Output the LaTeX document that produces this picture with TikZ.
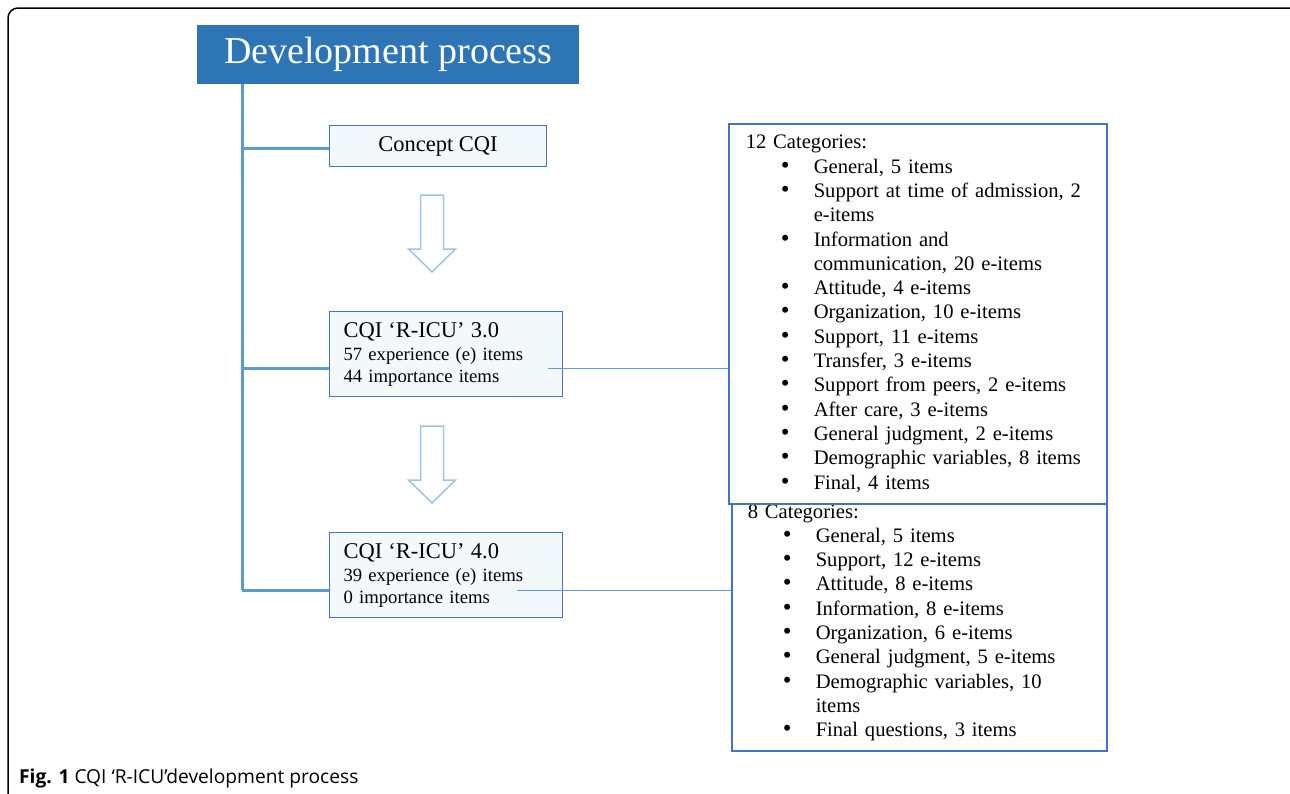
\documentclass[tikz,border=0pt]{standalone}
\usepackage{fontspec}
\setmainfont{Liberation Serif}
\newfontfamily\capfont{Open Sans}
\usetikzlibrary{calc}
\definecolor{headblue}{RGB}{46,117,182}
\definecolor{lineblue}{RGB}{91,155,213}
\definecolor{boxblue}{RGB}{68,114,196}
\definecolor{arrowblue}{RGB}{157,195,230}
\definecolor{boxfill}{RGB}{243,249,251}
\newcommand\bul{\hspace*{35pt}\makebox[33pt][l]{\fontsize{25}{24}\selectfont\textbullet}}
\newcommand\ind{\hspace*{68pt}}

\begin{document}
\begin{tikzpicture}[x=1pt, y=-1pt,
    stagebox/.style = {draw=boxblue, fill=boxfill, line width=1pt, anchor=north west, inner ysep=0pt},
    catbox/.style = {draw=boxblue, fill=white, line width=1.5pt, anchor=north west, align=left,
                     inner ysep=0pt, font=\fontsize{20.6}{24.3}\selectfont},
    branch/.style = {lineblue, line width=3pt},
    link/.style = {lineblue, line width=1pt},
    downblock/.pic = {\draw[arrowblue, line width=1.5pt, fill=white] (-11.5,-38.5) -- (11.5,-38.5) -- (11.5,15.5)
                      -- (23.5,15.5) -- (0,38.5) -- (-23.5,15.5) -- (-11.5,15.5) -- cycle;}
  ]
  \useasboundingbox (0,0) rectangle (1290,793);
  \draw[line width=1.5pt, rounded corners=10pt] (8,810) -- (8,8) -- (1310,8);

  % stages
  \node[fill=headblue, text=white, minimum width=382pt, minimum height=59pt, anchor=north west,
        inner sep=0pt, font=\fontsize{38}{44}\selectfont] (head) at (197,25) {Development process};
  \node[stagebox, minimum width=217pt, minimum height=41pt, font=\fontsize{22.5}{26}\selectfont] (concept) at (329,125) {Concept CQI};
  \node[stagebox, minimum width=233pt, minimum height=85pt, text width=205pt, inner xsep=14pt, align=left,
        font=\fontsize{18.7}{22}\selectfont] (v3) at (329,311)
        {{\fontsize{22.5}{26}\selectfont CQI ‘R-ICU’ 3.0}\\[1pt]57 experience (e) items\\44 importance items};
  \node[stagebox, minimum width=233pt, minimum height=85pt, text width=205pt, inner xsep=14pt, align=left,
        font=\fontsize{18.7}{22}\selectfont] (v4) at (329,532)
        {{\fontsize{22.5}{26}\selectfont CQI ‘R-ICU’ 4.0}\\[1pt]39 experience (e) items\\0 importance items};

  % categories
  \node[catbox, minimum width=375pt, minimum height=256pt, text width=343pt, inner xsep=16pt] (cat8) at (731,494)
        {8 Categories:\\
         \bul General, 5 items\\
         \bul Support, 12 e-items\\
         \bul Attitude, 8 e-items\\
         \bul Information, 8 e-items\\
         \bul Organization, 6 e-items\\
         \bul General judgment, 5 e-items\\
         \bul Demographic variables, 10\\
         \ind items\\
         \bul Final questions, 3 items};
  \node[catbox, minimum width=378pt, minimum height=380pt, text width=344pt, inner xsep=17pt] (cat12) at (728,123)
        {12 Categories:\\
         \bul General, 5 items\\
         \bul Support at time of admission, 2\\
         \ind e-items\\
         \bul Information and\\
         \ind communication, 20 e-items\\
         \bul Attitude, 4 e-items\\
         \bul Organization, 10 e-items\\
         \bul Support, 11 e-items\\
         \bul Transfer, 3 e-items\\
         \bul Support from peers, 2 e-items\\
         \bul After care, 3 e-items\\
         \bul General judgment, 2 e-items\\
         \bul Demographic variables, 8 items\\
         \bul Final, 4 items};

  % tree lines
  \coordinate (top) at ($(head.south west)+(45,0)$);
  \coordinate (j1) at (242,148);
  \coordinate (j2) at (242,368);
  \coordinate (j3) at (242,590);
  \draw[branch] (top) -- (j3);
  \draw[branch] (j1) -- (j1 -| concept.west);
  \draw[branch] (j2) -- (j2 -| v3.west);
  \draw[branch] (j3) -- (j3 -| v4.west);
  \draw[link] ($(j2 -| v3.east)+(-15,0)$) -- (j2 -| cat12.west);
  \draw[link] ($(j3 -| v4.east)+(-46,0)$) -- (j3 -| cat8.west);

  \pic at (432,233.5) {downblock};
  \pic at (432,464.5) {downblock};

  \node[anchor=base west, inner sep=0pt, font=\capfont\fontsize{19.2}{22}\selectfont] (caption) at (19,783)
        {\textbf{Fig. 1} CQI ‘R-ICU’development process};
\end{tikzpicture}
\end{document}
